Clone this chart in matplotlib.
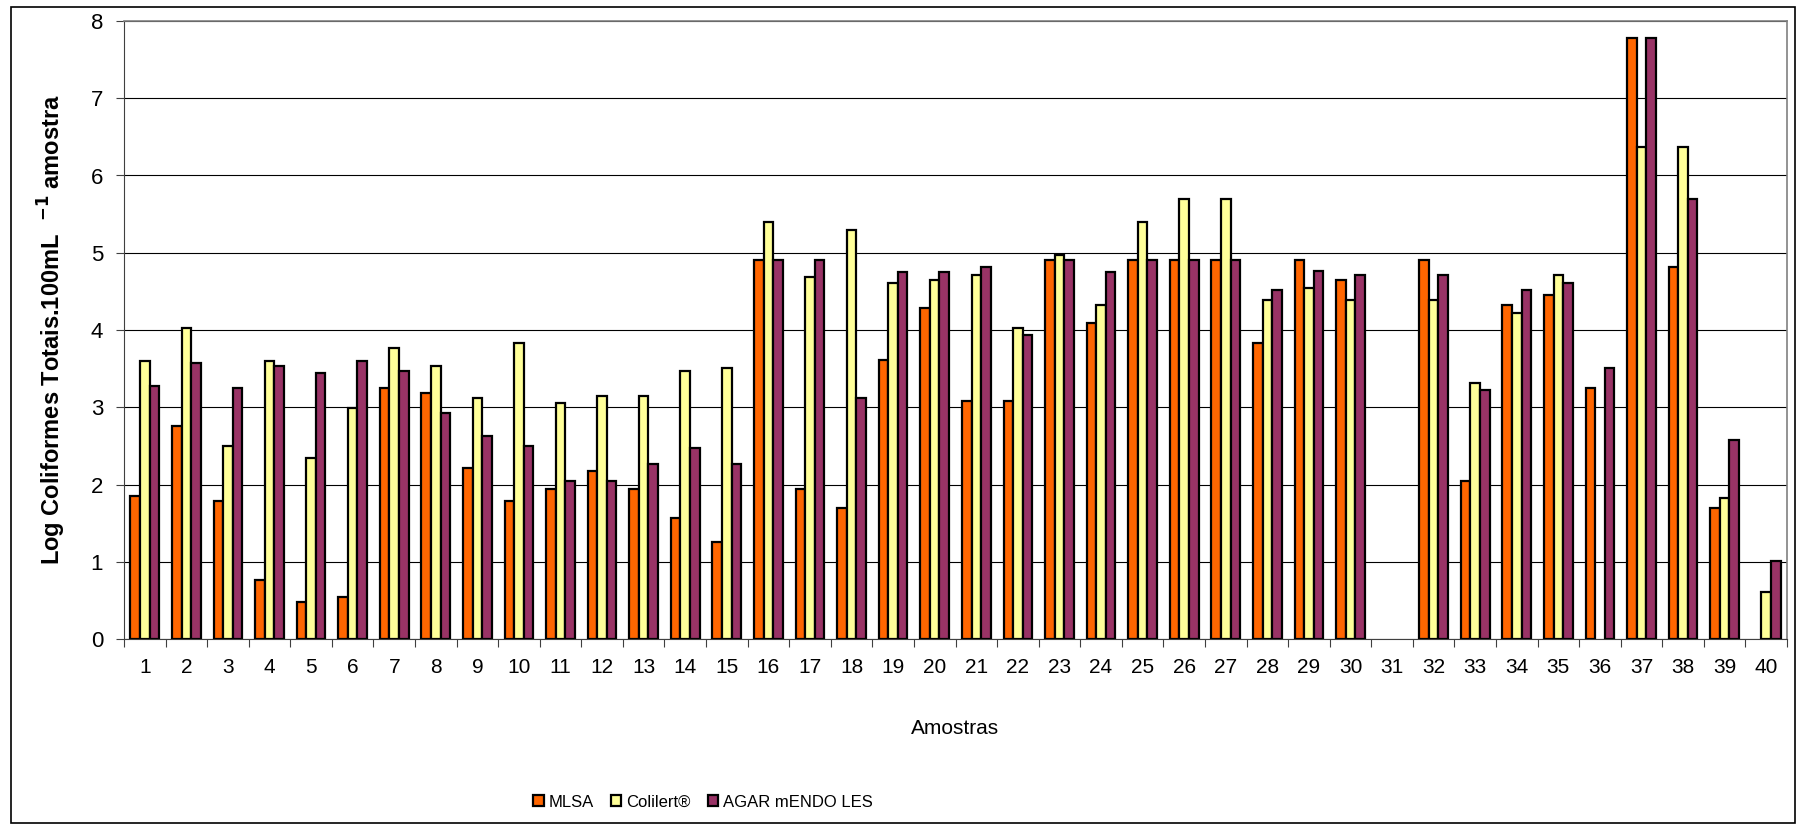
import numpy as np
import matplotlib.pyplot as plt
from matplotlib.patches import Rectangle

plt.rcParams['font.family'] = ['Liberation Sans', 'DejaVu Sans']

# Amostras 1..40
amostras = [str(i) for i in range(1, 41)]

mlsa = [1.85, 2.76, 1.78, 0.77, 0.48, 0.55, 3.25, 3.18, 2.21, 1.78,
        1.94, 2.18, 1.94, 1.56, 1.26, 4.91, 1.94, 1.69, 3.61, 4.29,
        3.08, 3.08, 4.91, 4.09, 4.91, 4.91, 4.91, 3.83, 4.91, 4.65,
        0.0, 4.91, 2.04, 4.32, 4.45, 3.25, 7.78, 4.81, 1.69, 0.0]
colilert = [3.60, 4.03, 2.50, 3.60, 2.34, 2.99, 3.77, 3.54, 3.12, 3.83,
            3.05, 3.15, 3.15, 3.47, 3.51, 5.40, 4.68, 5.30, 4.61, 4.65,
            4.71, 4.03, 4.97, 4.32, 5.40, 5.69, 5.69, 4.39, 4.55, 4.39,
            0.0, 4.39, 3.31, 4.22, 4.71, 0.0, 6.37, 6.37, 1.82, 0.61]
agar = [3.28, 3.57, 3.25, 3.54, 3.44, 3.60, 3.47, 2.92, 2.63, 2.50,
        2.04, 2.04, 2.27, 2.47, 2.27, 4.91, 4.91, 3.12, 4.75, 4.75,
        4.81, 3.93, 4.91, 4.75, 4.91, 4.91, 4.91, 4.52, 4.77, 4.71,
        0.0, 4.71, 3.22, 4.52, 4.61, 3.51, 7.78, 5.69, 2.57, 1.01]

series = ['MLSA', 'Colilert®', 'AGAR mENDO LES']
colors = ['#FF6600', '#FFFF99', '#993366']

fig = plt.figure(figsize=(18.05, 8.3), dpi=100)
ax = fig.add_axes([124 / 1805, 1 - 639 / 830, (1787 - 124) / 1805, (639 - 21) / 830])

x = np.arange(len(amostras))
w = 0.23
for k, (vals, lab, col) in enumerate(zip([mlsa, colilert, agar], series, colors)):
    v = np.array(vals)
    v = np.where(v > 0, v, np.nan)  # zero values are not drawn
    ax.bar(x + (k - 1) * w, v, width=w, color=col, edgecolor='black',
           linewidth=1.6, label=lab, zorder=3)

ax.set_xlim(-0.5, len(amostras) - 0.5)
ax.set_ylim(0, 8)
ax.set_yticks(range(0, 9))
ax.yaxis.grid(True, color='black', linewidth=0.8, zorder=0)

# category boundaries as ticks, labels centred
ax.set_xticks(np.arange(-0.5, len(amostras), 1.0))
ax.set_xticklabels([])
ax.set_xticks(x, minor=True)
ax.set_xticklabels(amostras, minor=True, fontsize=15)
ax.tick_params(axis='x', which='major', direction='out', length=6, color='#404040')
ax.tick_params(axis='x', which='minor', length=0, pad=14)
ax.tick_params(axis='y', direction='out', length=6, labelsize=16, pad=9, color='#404040')

for s in ['top', 'right']:
    ax.spines[s].set_color('#808080')
    ax.spines[s].set_linewidth(1.2)
ax.spines['left'].set_color('#404040')
ax.spines['bottom'].set_color('#404040')

ax.set_xlabel('Amostras', fontsize=15, labelpad=30)
ax.set_ylabel(r'Log Coliformes Totais.100mL  $^{\mathbf{-1}}$ amostra',
              fontsize=17, fontweight='bold', labelpad=16)

fig.legend(loc='center', bbox_to_anchor=(703 / 1805, 1 - 802 / 830), ncol=3,
           frameon=False, fontsize=12, handlelength=0.65, handleheight=0.65,
           columnspacing=1.0, handletextpad=0.3)

# outer chart frame
fig.patches.append(Rectangle((11 / 1805, 7 / 830), (1795 - 11) / 1805, (823 - 7) / 830,
                             transform=fig.transFigure, fill=False,
                             edgecolor='black', linewidth=1.2))

fig.savefig('out.png', dpi=100)
